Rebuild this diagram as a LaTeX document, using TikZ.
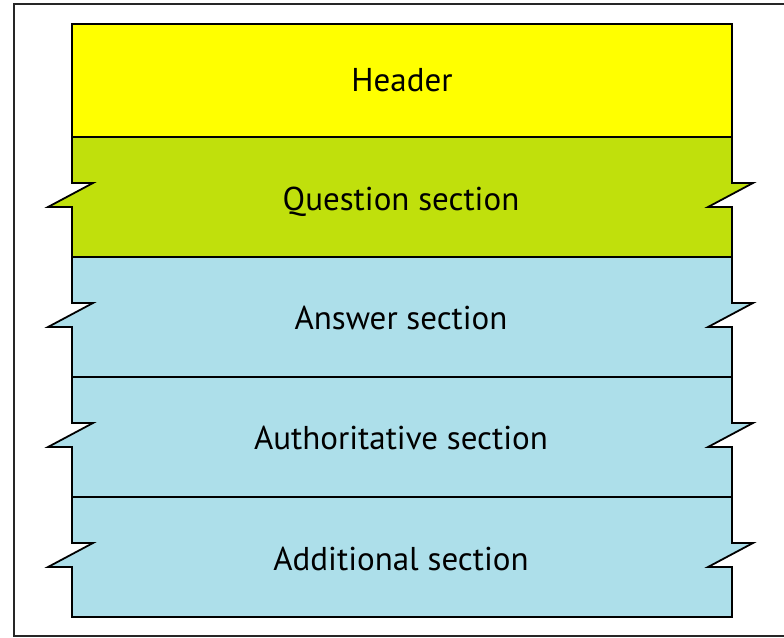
\documentclass[tikz,border=0pt]{standalone}
\usepackage{fontspec}
\setmainfont{PT Sans}
\definecolor{hdryellow}{HTML}{FFFF00}
\definecolor{qgreen}{HTML}{C0E00C}
\definecolor{secblue}{HTML}{ADDFEA}
\begin{document}
\begin{tikzpicture}[x=1pt,y=-1pt,
  secbox/.style={draw=black,line width=1.8pt,line join=miter},
  lbl/.style={font=\fontsize{33}{40}\selectfont,text=black,inner sep=0pt,anchor=base},
  frame/.style={draw=black!85,line width=1.4pt}]
\useasboundingbox (0,0) rectangle (784,637);
% outer frame (right edge lies outside the picture)
\draw[frame] (790,4) -- (14,4) -- (14,636) -- (790,636);
% header
\draw[secbox,fill=hdryellow] (72,24) rectangle (732,137);
% notched sections
\foreach \yo/\yi/\col in {137/257/qgreen, 257/377/secblue, 377/497/secblue, 497/617/secblue}{
  \draw[secbox,fill=\col] (72,\yo) -- (732,\yo) -- (732,\yo+46) -- (753,\yo+46) -- (708,\yo+70) -- (732,\yo+70)
     -- (732,\yi) -- (72,\yi) -- (72,\yo+70) -- (48,\yo+70) -- (93,\yo+46) -- (72,\yo+46) -- cycle;
}
\node[lbl] (hdr) at (402,91) {Header};
\node[lbl] (q) at (401,210) {Question section};
\node[lbl] (ans) at (401,329) {Answer section};
\node[lbl] (auth) at (401,449) {Authoritative section};
\node[lbl] (add) at (401,570) {Additional section};
\end{tikzpicture}
\end{document}
